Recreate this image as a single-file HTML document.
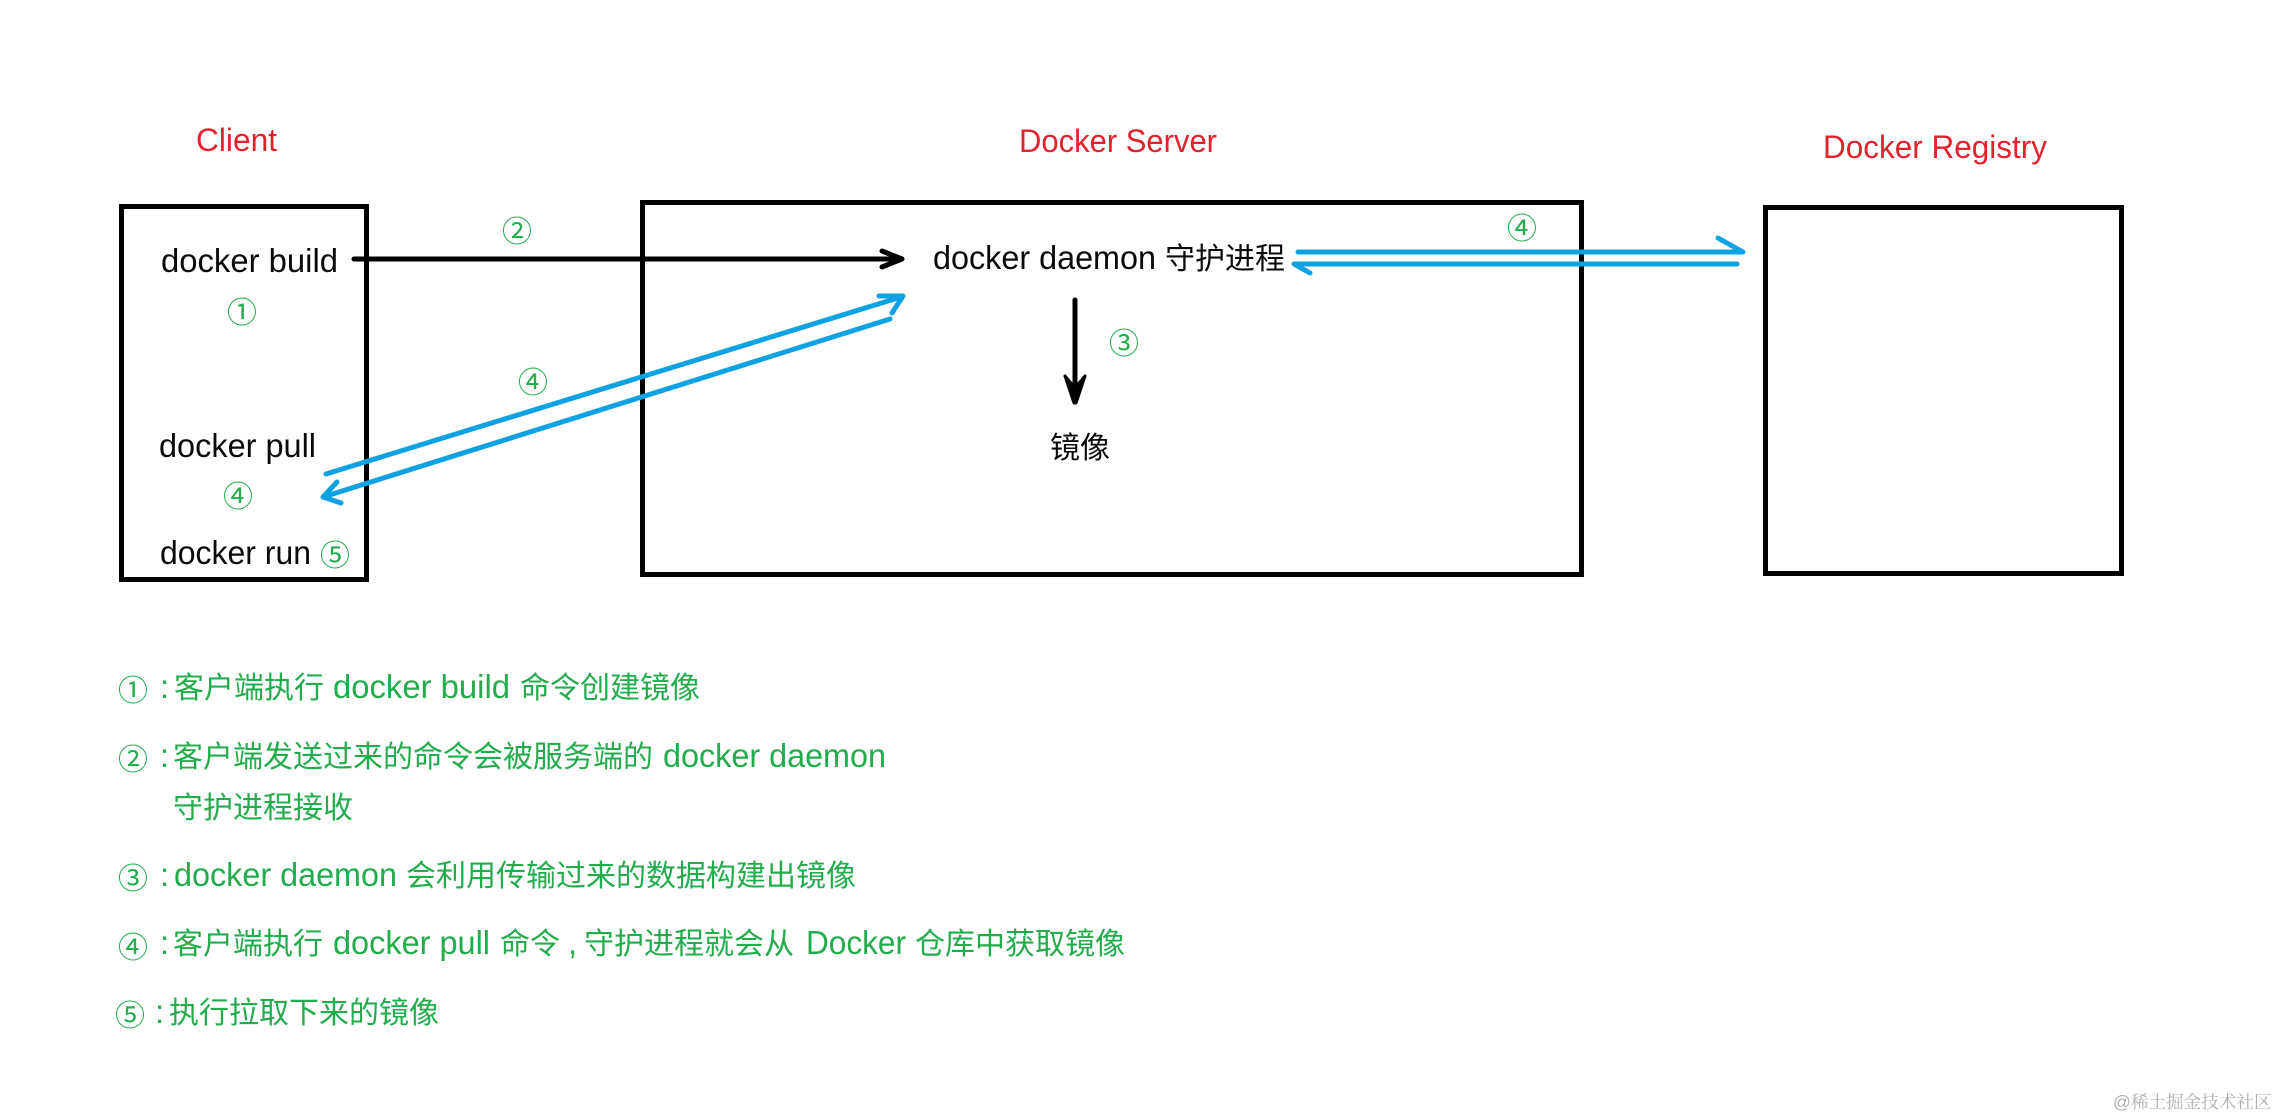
<!DOCTYPE html>
<html lang="zh">
<head>
<meta charset="utf-8">
<title>Docker</title>
<style>
html,body{margin:0;padding:0;background:#fff;width:2278px;height:1118px;overflow:hidden}
svg{display:block}
text{font-family:"Liberation Sans","Noto Sans CJK SC",sans-serif}
.r{fill:#e1232e;font-size:32px}
.k{fill:#0a0a0a;font-size:33px}
.c{fill:#0a0a0a;font-size:30px;font-family:"Noto Sans CJK SC",sans-serif}
.g{fill:#22ac4c;font-size:33px}
.gc{fill:#22ac4c;font-size:30px;font-family:"Noto Sans CJK SC",sans-serif}
.n{fill:#22ac4c;font-size:30px;font-family:"Noto Sans CJK SC",sans-serif;text-anchor:middle}
.b{fill:none;stroke:#0ea2e3;stroke-width:5;stroke-linecap:round;stroke-linejoin:round}
.a{fill:none;stroke:#000;stroke-width:5;stroke-linecap:round;stroke-linejoin:round}
.box{fill:none;stroke:#000;stroke-width:5}
</style>
</head>
<body>
<svg width="2278" height="1118" viewBox="0 0 2278 1118" xmlns="http://www.w3.org/2000/svg">
<rect width="2278" height="1118" fill="#fff"/>

<rect class="box" x="121.5" y="206.5" width="245" height="373"/>
<rect class="box" x="642.5" y="202.5" width="939" height="372"/>
<rect class="box" x="1765.5" y="207.5" width="356" height="366"/>

<text class="r" x="196" y="151" textLength="81" lengthAdjust="spacingAndGlyphs">Client</text>
<text class="r" x="1019" y="152" textLength="198" lengthAdjust="spacingAndGlyphs">Docker Server</text>
<text class="r" x="1823" y="158" textLength="224" lengthAdjust="spacingAndGlyphs">Docker Registry</text>

<text class="k" x="161" y="272" textLength="177" lengthAdjust="spacingAndGlyphs">docker build</text>
<text class="k" x="159" y="457" textLength="157" lengthAdjust="spacingAndGlyphs">docker pull</text>
<text class="k" x="160" y="564" textLength="151" lengthAdjust="spacingAndGlyphs">docker run</text>
<text class="k" x="933" y="269" textLength="223" lengthAdjust="spacingAndGlyphs">docker daemon</text>
<text class="c" x="1165" y="269">守护进程</text>
<text class="c" x="1050" y="458">镜像</text>

<text class="n" x="242" y="323">①</text>
<text class="n" x="517" y="242">②</text>
<text class="n" x="533" y="393">④</text>
<text class="n" x="238" y="507">④</text>
<text class="n" x="335" y="566">⑤</text>
<text class="n" x="1522" y="239">④</text>
<text class="n" x="1124" y="354">③</text>

<path class="a" d="M354 259H901M882 251L902 259L882 267"/>
<path class="a" d="M1075 300V396"/>
<path d="M1065 376L1075 388L1085 376L1076 403L1074 403Z" fill="#000" stroke="#000" stroke-width="3" stroke-linejoin="round"/>

<path class="b" d="M326 474L901 297M879 296L903 296L892 313"/>
<path class="b" d="M890 319L323 497M337 482L323 497L341 503"/>
<path class="b" d="M1298 252H1742M1718 238L1743 252"/>
<path class="b" d="M1737 264H1294M1310 273L1294 264"/>

<text class="n" x="133" y="701">①</text>
<text class="g" x="160" y="698">:</text>
<text class="gc" x="174" y="698">客户端执行</text>
<text class="g" x="333" y="698" textLength="177" lengthAdjust="spacingAndGlyphs">docker build</text>
<text class="gc" x="520" y="698">命令创建镜像</text>

<text class="n" x="133" y="770">②</text>
<text class="g" x="160" y="767">:</text>
<text class="gc" x="173" y="767">客户端发送过来的命令会被服务端的</text>
<text class="g" x="663" y="767" textLength="223" lengthAdjust="spacingAndGlyphs">docker daemon</text>
<text class="gc" x="173" y="818">守护进程接收</text>

<text class="n" x="133" y="889">③</text>
<text class="g" x="160" y="886">:</text>
<text class="g" x="174" y="886" textLength="223" lengthAdjust="spacingAndGlyphs">docker daemon</text>
<text class="gc" x="406" y="886">会利用传输过来的数据构建出镜像</text>

<text class="n" x="133" y="958">④</text>
<text class="g" x="160" y="954">:</text>
<text class="gc" x="173" y="954">客户端执行</text>
<text class="g" x="333" y="954" textLength="157" lengthAdjust="spacingAndGlyphs">docker pull</text>
<text class="gc" x="500" y="954">命令</text>
<text class="g" x="568" y="954">,</text>
<text class="gc" x="584" y="954">守护进程就会从</text>
<text class="g" x="806" y="954" textLength="100" lengthAdjust="spacingAndGlyphs">Docker</text>
<text class="gc" x="915" y="954">仓库中获取镜像</text>

<text class="n" x="130" y="1026">⑤</text>
<text class="g" x="155" y="1023">:</text>
<text class="gc" x="169" y="1023">执行拉取下来的镜像</text>

<text x="2113" y="1108" fill="#b0b0b0" style="font-size:17.6px;font-family:'Liberation Sans','Noto Serif CJK SC',serif">@稀土掘金技术社区</text>
</svg>
</body>
</html>
